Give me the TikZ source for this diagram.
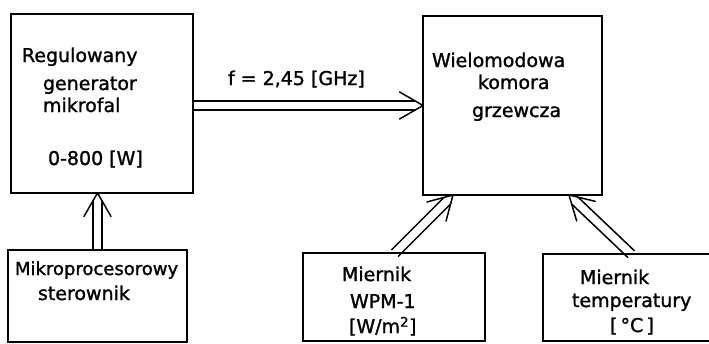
\documentclass[tikz,border=0pt]{standalone}
\usepackage{fontspec}
\setmainfont{DejaVu Sans}[FakeBold=1.3]
\usetikzlibrary{calc}

\tikzset{
  box/.style={draw, line width=2.4pt, rectangle, inner sep=0pt, outer sep=0pt},
  shaft/.style={line width=1.5pt, line cap=round, line join=round},
  lbl/.style={anchor=base west, inner sep=0pt, outer sep=0pt,
    font=\fontsize{19}{22}\selectfont},
  narrow/.style={font=\fontsize{18}{22}\selectfont}
}

% double-line arrow with an open tip, from #1 to #2
\newcommand\twinarrow[2]{%
  \coordinate (ta) at ($(#2)!8.2pt!(#1)$);
  \draw[shaft] ($(#1)!4.7pt!90:(#2)$) -- ($(ta)!4.7pt!-90:(#1)$);
  \draw[shaft] ($(#1)!4.7pt!-90:(#2)$) -- ($(ta)!4.7pt!90:(#1)$);
  \draw[shaft] ($(#2)!27pt!30:(#1)$) -- (#2) -- ($(#2)!27pt!-30:(#1)$);
}

\begin{document}
\begin{tikzpicture}[x=1pt,y=-1pt]
  \useasboundingbox (0,0) rectangle (709,343);
  \clip (0,0) rectangle (709,343);
  \fill[white] (0,0) rectangle (709,343);

  % blocks
  \node[box, minimum width=182pt, minimum height=179pt] (gen)  at (102,103.5) {};
  \node[box, minimum width=179pt, minimum height=92pt]  (ctrl) at (97.5,296) {};
  \node[box, minimum width=179pt, minimum height=179pt] (cham) at (512.5,105.5) {};
  \node[box, minimum width=182pt, minimum height=88pt]  (wpm)  at (394,297) {};
  \node[box, minimum width=182pt, minimum height=87pt]  (temp) at (634,297.5) {};

  % block texts
  \node[lbl] (g1) at (22,62)  {Regulowany};
  \node[lbl] (g2) at (43,90)  {generator};
  \node[lbl] (g3) at (43,112) {mikrofal};
  \node[lbl] (g4) at (48,165) {0-800 [W]};

  \node[lbl] (c1) at (432,67)  {Wielomodowa};
  \node[lbl] (c2) at (478,89)  {komora};
  \node[lbl] (c3) at (472,117) {grzewcza};

  \node[lbl, narrow] (s1) at (15,275) {Mikroprocesorowy};
  \node[lbl] (s2) at (38,300) {sterownik};

  \node[lbl] (w1) at (342,281) {Miernik};
  \node[lbl] (w2) at (350,308) {WPM-1};
  \node[lbl] (w3) at (349,333) {[W/m\textsuperscript{2}]};

  \node[lbl] (t1) at (580,284) {Miernik};
  \node[lbl] (t2) at (572,307) {temperatury};
  \node[lbl] (t3) at (610,332) {[\,°C\,]};

  \node[lbl] (freq) at (228,85) {f = 2,45 [GHz]};

  % connectors
  \coordinate (ctrlout) at (ctrl.north);
  \coordinate (genin)   at (ctrl.north |- gen.south);
  \twinarrow{ctrlout}{genin}

  \coordinate (genout) at (gen.east |- cham.west);
  \coordinate (chamin) at (cham.west);
  \twinarrow{genout}{chamin}

  \coordinate (wpmout)  at ($(wpm.north west)+(92,0)$);
  \coordinate (chamin2) at ($(cham.south west)+(30,0)$);
  \twinarrow{wpmout}{chamin2}

  \coordinate (tempout) at ($(temp.north west)+(88,0)$);
  \coordinate (chamin3) at ($(cham.south east)+(-33,0)$);
  \twinarrow{tempout}{chamin3}
\end{tikzpicture}
\end{document}
